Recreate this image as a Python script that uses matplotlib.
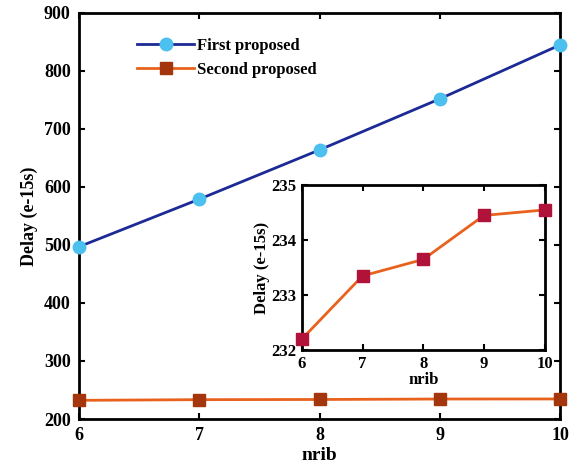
import matplotlib
matplotlib.use("Agg")
import matplotlib.pyplot as plt

nrib = [6, 7, 8, 9, 10]
first_proposed = [497, 579, 664, 752, 845]
second_proposed = [232.2, 233.35, 233.65, 234.45, 234.55]
y_ticks_main = [200, 300, 400, 500, 600, 700, 800, 900]
y_ticks_inset = [232, 233, 234, 235]

plt.rcParams['font.family'] = ['Liberation Serif', 'DejaVu Serif']
plt.rcParams['font.weight'] = 'bold'

fig = plt.figure(figsize=(5.77, 4.70), dpi=100)
ax = fig.add_axes([0.137, 0.1085, 0.834, 0.864])

ax.plot(nrib, first_proposed, color='#1c2a95', lw=2, marker='o', ms=9,
        mfc='#4cc0ef', mec='#4cc0ef', label='First proposed', clip_on=False, zorder=3)
ax.plot(nrib, second_proposed, color='#e8621e', lw=2, marker='s', ms=8,
        mfc='#a3360c', mec='#a3360c', label='Second proposed', clip_on=False, zorder=3)
ax.set_xlim(6, 10)
ax.set_ylim(200, 900)
ax.set_xticks(nrib)
ax.set_yticks(y_ticks_main)
ax.tick_params(direction='in', top=True, right=True, labelsize=13, width=1.5, length=4, pad=6)
for lab in ax.get_xticklabels() + ax.get_yticklabels():
    lab.set_fontweight('bold')
for s in ax.spines.values():
    s.set_linewidth(2)
ax.set_xlabel('nrib', fontsize=14, fontweight='bold', labelpad=2)
ax.set_ylabel('Delay (e-15s)', fontsize=13, fontweight='bold', labelpad=4)
leg = ax.legend(loc='upper left', bbox_to_anchor=(0.09, 0.975), frameon=False,
                prop={'weight': 'bold', 'size': 12}, handlelength=3.4,
                handletextpad=0.2, labelspacing=0.45)

ins = fig.add_axes([0.523, 0.255, 0.421, 0.351])
ins.plot(nrib, second_proposed, color='#e8621e', lw=2, marker='s', ms=8,
         mfc='#b0123a', mec='#b0123a', clip_on=False, zorder=3)
ins.set_xlim(6, 10)
ins.set_ylim(232, 235)
ins.set_xticks(nrib)
ins.set_yticks(y_ticks_inset)
ins.tick_params(direction='in', top=True, right=True, labelsize=12, width=1.5, length=4, pad=4)
for lab in ins.get_xticklabels() + ins.get_yticklabels():
    lab.set_fontweight('bold')
for s in ins.spines.values():
    s.set_linewidth(2)
ins.set_xlabel('nrib', fontsize=12, fontweight='bold', labelpad=0)
ins.set_ylabel('Delay (e-15s)', fontsize=12, fontweight='bold', labelpad=1)

fig.savefig('out.png', dpi=100)
